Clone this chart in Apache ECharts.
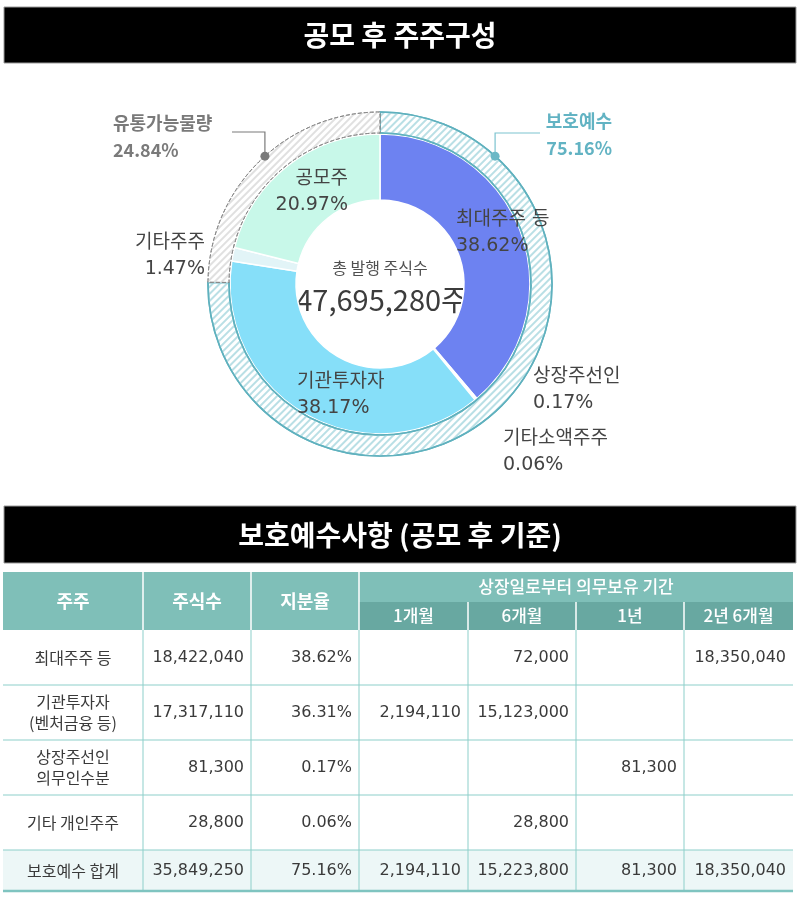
<!DOCTYPE html>
<html><head><meta charset="utf-8">
<script src="https://cdn.jsdelivr.net/npm/echarts@6/dist/echarts.min.js"></script>
<style>html,body{margin:0;padding:0;background:#fff}#chart{width:800px;height:899px}</style>
</head><body><div id="chart"></div>
<script>
// ---------------- data ----------------
const chartTitle = '공모 후 주주구성';
const tableTitle = '보호예수사항 (공모 후 기준)';
const pieNames = ['최대주주 등', '상장주선인', '기타소액주주', '기관투자자', '기타주주', '공모주'];
const pieValues = [38.62, 0.17, 0.06, 38.17, 1.47, 20.97];
const ringNames = ['보호예수', '유통가능물량'];
const ringValues = [75.16, 24.84];
const centerTitle = '총 발행 주식수';
const totalShares = 47695280;

const tableHeaders = ['주주', '주식수', '지분율'];
const periodTitle = '상장일로부터 의무보유 기간';
const periodHeaders = ['1개월', '6개월', '1년', '2년 6개월'];
const tableHolders = ['최대주주 등', '기관투자자\n(벤처금융 등)', '상장주선인\n의무인수분', '기타 개인주주', '보호예수 합계'];
const tableShares = [18422040, 17317110, 81300, 28800, 35849250];
const tableRatios = [38.62, 36.31, 0.17, 0.06, 75.16];
const lock1M = [null, 2194110, null, null, 2194110];
const lock6M = [72000, 15123000, null, 28800, 15223800];
const lock1Y = [null, null, 81300, null, 81300];
const lock30M = [18350040, null, null, null, 18350040];

// ---------------- layout & style ----------------
const KR = '"Noto Sans CJK KR"';
const NUM = '"DejaVu Sans", "Noto Sans CJK KR"';
const CX = 380, CY = 284;
const R_HOLE = 84, R_PIE = 150, R_RING_IN = 151, R_RING_OUT = 172;
const pieColors = ['#6d82f1', '#aab8f6', '#d6f3fb', '#86dff9', '#e2f4f7', '#c8f8e9'];
const pieLabelPos = [
  {x: 456, y: 233, align: 'left'},
  {x: 533, y: 390, align: 'left'},
  {x: 503, y: 452, align: 'left'},
  {x: 297, y: 395, align: 'left'},
  {x: 205, y: 256, align: 'right'},
  {x: 348, y: 192, align: 'right'}
];
const ringLabelPos = [
  {x: 612, y: 135, align: 'right', dotAngle: 42, elbowY: 133, endX: 540},
  {x: 113, y: 137, align: 'left', dotAngle: 318, elbowY: 132, endX: 232}
];
const colEdges = [0, 140, 248, 356, 465, 573, 681, 790];
const rowEdges = [0, 30, 58, 113, 168, 223, 278, 319];

function polar(angleDeg, r) {
  const a = angleDeg * Math.PI / 180;
  return [CX + r * Math.sin(a), CY - r * Math.cos(a)];
}
const fmt = v => v == null ? '' : v.toLocaleString('en-US');

// ---------------- table cells ----------------
const cells = [];
tableHeaders.forEach((h, i) => cells.push({c0: i, c1: i + 1, r0: 0, r1: 2, text: h, kind: 'head', align: 'center'}));
cells.push({c0: 3, c1: 7, r0: 0, r1: 1, text: periodTitle, kind: 'head2', align: 'center'});
periodHeaders.forEach((h, i) => cells.push({c0: 3 + i, c1: 4 + i, r0: 1, r1: 2, text: h, kind: 'sub', align: 'center'}));
tableHolders.forEach((name, i) => {
  const kind = i === tableHolders.length - 1 ? 'total' : 'body';
  const r = 2 + i;
  const vals = [fmt(tableShares[i]), tableRatios[i].toFixed(2) + '%', fmt(lock1M[i]), fmt(lock6M[i]), fmt(lock1Y[i]), fmt(lock30M[i])];
  cells.push({c0: 0, c1: 1, r0: r, r1: r + 1, text: name, kind, align: 'center', kr: true});
  vals.forEach((t, j) => cells.push({c0: 1 + j, c1: 2 + j, r0: r, r1: r + 1, text: t, kind, align: 'right'}));
});
const cellStyle = {
  head: {bg: '#7fbfb8', line: '#ffffff', lw: 1.5, color: '#fff', font: 'bold 18px ' + KR},
  head2: {bg: '#7fbfb8', line: '#ffffff', lw: 0, color: '#fff', font: '500 17px ' + KR},
  sub: {bg: '#68a8a1', line: '#ffffff', lw: 1.5, color: '#fff', font: '500 17px ' + KR},
  body: {bg: '#ffffff', line: '#8dcfca', lw: 1, color: '#3a3a3a', font: '16px ' + NUM, krFont: '16px ' + KR, bottom: '#8dcfca', bottomW: 1},
  total: {bg: '#edf7f7', line: '#8dcfca', lw: 1, color: '#3a3a3a', font: '16px ' + NUM, krFont: '16px ' + KR, bottom: '#7fc4c0', bottomW: 2.5}
};
function renderCell(params, api) {
  const cell = cells[params.dataIndex];
  const a = api.coord([api.value(0), api.value(2)]);
  const b = api.coord([api.value(1), api.value(3)]);
  const x = a[0], y = a[1], w = b[0] - a[0], h = b[1] - a[1];
  const st = cellStyle[cell.kind];
  const children = [{type: 'rect', z2: 0, shape: {x, y, width: w, height: h}, style: {fill: st.bg}}];
  if (cell.c1 !== colEdges.length - 1 && st.lw > 0) {
    children.push({type: 'line', z2: 10, shape: {x1: x + w, y1: y, x2: x + w, y2: y + h}, style: {stroke: st.line, lineWidth: st.lw}});
  }
  if (st.bottom) {
    children.push({type: 'line', z2: 11, shape: {x1: x, y1: y + h, x2: x + w, y2: y + h}, style: {stroke: st.bottom, lineWidth: st.bottomW}});
  }
  const tx = cell.align === 'right' ? x + w - 7 : x + w / 2;
  children.push({type: 'text', z2: 20, style: {
    text: cell.text, x: tx, y: y + h / 2, align: cell.align, verticalAlign: 'middle',
    fill: st.color, font: cell.kr && st.krFont ? st.krFont : st.font, lineHeight: 21
  }});
  return {type: 'group', children};
}

// ---------------- chart ----------------
const chart = echarts.init(document.getElementById('chart'), null, {renderer: 'canvas'});
const ringDots = ringLabelPos.map((L, i) => {
  const p = polar(L.dotAngle, R_RING_OUT);
  return {type: 'circle', z: 50, shape: {cx: p[0], cy: p[1], r: 4.5}, style: {fill: i === 0 ? '#6bb8c6' : '#7a7a7a'}};
});
const stripe = c => ({symbol: 'rect', symbolSize: 1, dashArrayX: [1, 0], dashArrayY: [1.5, 3], rotation: -Math.PI / 4, color: c});

const option = {
  animation: false,
  backgroundColor: '#ffffff',
  grid: {left: 3, top: 572, width: 790, height: 319},
  xAxis: {type: 'value', min: 0, max: colEdges[colEdges.length - 1], show: false},
  yAxis: {type: 'value', min: 0, max: rowEdges[rowEdges.length - 1], inverse: true, show: false},
  graphic: [
    {type: 'rect', shape: {x: 4, y: 7, width: 792, height: 56}, style: {fill: '#000', stroke: '#9a9a9a', lineWidth: 1}},
    {type: 'text', style: {text: chartTitle, x: 400, y: 35, align: 'center', verticalAlign: 'middle', fill: '#fff', font: 'bold 28px ' + KR}},
    {type: 'rect', shape: {x: 4, y: 506, width: 792, height: 57}, style: {fill: '#000', stroke: '#9a9a9a', lineWidth: 1}},
    {type: 'text', style: {text: tableTitle, x: 400, y: 535, align: 'center', verticalAlign: 'middle', fill: '#fff', font: 'bold 28px ' + KR}},
    {type: 'text', style: {text: centerTitle, x: CX, y: 268, align: 'center', verticalAlign: 'middle', fill: '#505050', font: '16px ' + KR}},
    {type: 'text', style: {text: fmt(totalShares) + '주', x: CX + 2, y: 300, align: 'center', verticalAlign: 'middle', fill: '#3c3c3c', font: '29px ' + KR}},
    ...ringDots
  ],
  series: [
    {
      type: 'pie', radius: [R_HOLE, R_PIE], center: [CX, CY], startAngle: 90, clockwise: true,
      silent: true, avoidLabelOverlap: false,
      itemStyle: {borderColor: '#fff', borderWidth: 1.5},
      label: {
        show: true, position: 'inside', color: '#444', fontSize: 19, lineHeight: 26, fontFamily: NUM,
        formatter: p => p.name + '\n' + p.value.toFixed(2) + '%'
      },
      labelLine: {show: false},
      labelLayout: p => {
        const L = pieLabelPos[p.dataIndex];
        return {x: L.x, y: L.y, align: L.align, verticalAlign: 'middle'};
      },
      data: pieNames.map((n, i) => ({name: n, value: pieValues[i], itemStyle: {color: pieColors[i]}}))
    },
    {
      type: 'pie', radius: [R_RING_IN, R_RING_OUT], center: [CX, CY], startAngle: 90, clockwise: true,
      silent: true, avoidLabelOverlap: false,
      label: {
        show: true, position: 'outside', fontSize: 18, fontWeight: 'bold', lineHeight: 27, fontFamily: KR,
        formatter: p => p.name + '\n' + p.value.toFixed(2) + '%'
      },
      labelLine: {show: true, length: 10, length2: 10, lineStyle: {width: 1.2}},
      labelLayout: p => {
        const L = ringLabelPos[p.dataIndex];
        const d = polar(L.dotAngle, R_RING_OUT);
        return {x: L.x, y: L.y, align: L.align, verticalAlign: 'middle',
          labelLinePoints: [d, [d[0], L.elbowY], [L.endX, L.elbowY]]};
      },
      data: [
        {name: ringNames[0], value: ringValues[0],
          itemStyle: {color: '#ffffff', borderColor: '#5fb1be', borderWidth: 1.6, decal: stripe('#b9dfe5')},
          label: {color: '#62b3c3'}, labelLine: {lineStyle: {color: '#7cc3cf'}}},
        {name: ringNames[1], value: ringValues[1],
          itemStyle: {color: '#ffffff', borderColor: '#8a8a8a', borderWidth: 1, borderType: 'dashed', decal: stripe('#e0e0e0')},
          label: {color: '#7a7a7a'}, labelLine: {lineStyle: {color: '#7a7a7a'}}}
      ]
    },
    {
      type: 'custom', coordinateSystem: 'cartesian2d', silent: true, clip: false,
      renderItem: renderCell,
      data: cells.map(c => [colEdges[c.c0], colEdges[c.c1], rowEdges[c.r0], rowEdges[c.r1]])
    }
  ]
};
chart.setOption(option);
</script>
</body></html>
